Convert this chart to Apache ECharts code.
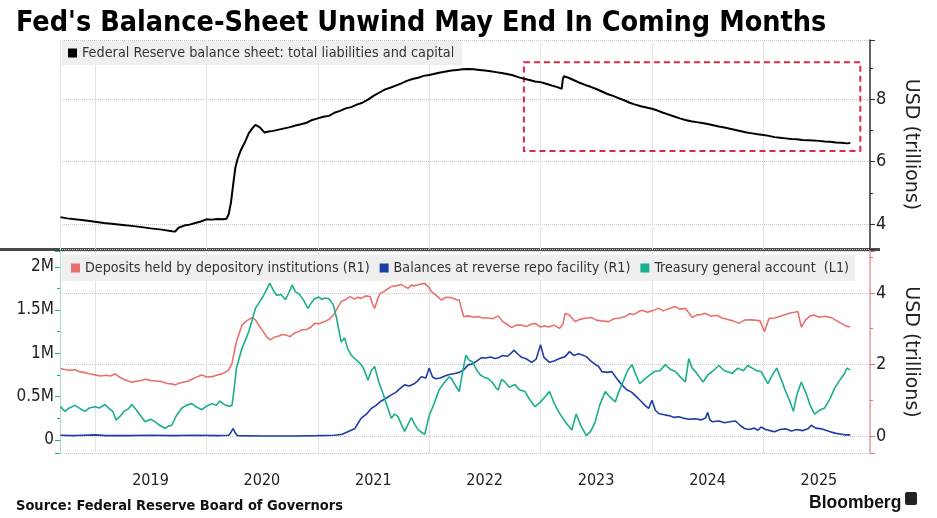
<!DOCTYPE html>
<html>
<head>
<meta charset="utf-8">
<script src="https://cdn.jsdelivr.net/npm/echarts@6/dist/echarts.min.js"></script>
<style>
html,body{margin:0;padding:0;background:#fff;}
#chart{width:937px;height:518px;}
</style>
</head>
<body>
<div id="chart"></div>
<script>
// ---- Data (x = decimal year) ----
const yearTicks = [2019, 2020, 2021, 2022, 2023, 2024, 2025];

// Federal Reserve balance sheet, USD trillions (right axis, top panel)
const fedBalance = [
[2018.69,4.22],[2018.75,4.18],[2018.82,4.15],[2018.9,4.12],[2019.0,4.07],[2019.08,4.03],[2019.17,4.0],[2019.25,3.97],
[2019.33,3.94],[2019.42,3.9],[2019.5,3.86],[2019.6,3.82],[2019.69,3.77],[2019.72,3.76],[2019.75,3.88],[2019.8,3.95],
[2019.85,3.98],[2019.9,4.03],[2019.95,4.08],[2020.0,4.15],[2020.05,4.14],[2020.1,4.16],[2020.15,4.15],[2020.18,4.17],
[2020.2,4.31],[2020.22,4.67],[2020.24,5.25],[2020.26,5.8],[2020.28,6.08],[2020.31,6.37],[2020.35,6.65],[2020.38,6.9],
[2020.41,7.05],[2020.44,7.17],[2020.48,7.09],[2020.52,6.93],[2020.56,6.96],[2020.6,6.98],[2020.65,7.02],[2020.7,7.06],
[2020.75,7.1],[2020.8,7.15],[2020.85,7.19],[2020.9,7.24],[2020.95,7.33],[2021.0,7.38],[2021.05,7.43],[2021.1,7.46],
[2021.15,7.56],[2021.2,7.62],[2021.25,7.7],[2021.3,7.74],[2021.35,7.82],[2021.4,7.88],[2021.45,7.98],[2021.5,8.1],
[2021.55,8.2],[2021.6,8.3],[2021.65,8.36],[2021.7,8.43],[2021.75,8.5],[2021.8,8.58],[2021.85,8.64],[2021.9,8.68],
[2021.95,8.74],[2022.0,8.77],[2022.05,8.81],[2022.1,8.85],[2022.15,8.88],[2022.2,8.91],[2022.25,8.93],[2022.3,8.95],
[2022.35,8.96],[2022.4,8.95],[2022.45,8.93],[2022.5,8.91],[2022.55,8.89],[2022.6,8.86],[2022.65,8.83],[2022.7,8.8],
[2022.75,8.76],[2022.8,8.7],[2022.85,8.65],[2022.9,8.61],[2022.95,8.56],[2023.0,8.54],[2023.05,8.49],[2023.1,8.43],
[2023.15,8.38],[2023.19,8.33],[2023.2,8.64],[2023.21,8.73],[2023.25,8.68],[2023.3,8.6],[2023.35,8.52],[2023.4,8.45],
[2023.45,8.39],[2023.5,8.32],[2023.55,8.24],[2023.6,8.16],[2023.65,8.1],[2023.7,8.03],[2023.75,7.96],[2023.8,7.88],
[2023.85,7.82],[2023.9,7.77],[2023.95,7.73],[2024.0,7.69],[2024.05,7.63],[2024.1,7.56],[2024.15,7.5],[2024.2,7.44],
[2024.25,7.38],[2024.3,7.33],[2024.35,7.29],[2024.4,7.26],[2024.45,7.23],[2024.5,7.2],[2024.55,7.16],[2024.6,7.12],
[2024.65,7.09],[2024.7,7.05],[2024.75,7.01],[2024.8,6.97],[2024.85,6.93],[2024.9,6.9],[2024.95,6.87],[2025.0,6.85],
[2025.05,6.82],[2025.1,6.78],[2025.15,6.76],[2025.2,6.74],[2025.25,6.72],[2025.3,6.71],[2025.35,6.69],[2025.4,6.68],
[2025.45,6.67],[2025.5,6.66],[2025.55,6.64],[2025.6,6.63],[2025.65,6.61],[2025.7,6.6],[2025.75,6.58],[2025.78,6.59]
];

// Deposits held by depository institutions, USD trillions (R1)
const deposits = [
[2018.69,1.89],[2018.73,1.86],[2018.77,1.84],[2018.82,1.85],[2018.86,1.8],[2018.9,1.78],[2018.95,1.74],[2019.0,1.71],
[2019.05,1.68],[2019.1,1.7],[2019.14,1.68],[2019.18,1.74],[2019.22,1.65],[2019.26,1.58],[2019.3,1.54],[2019.33,1.5],
[2019.37,1.53],[2019.41,1.55],[2019.45,1.59],[2019.5,1.55],[2019.55,1.54],[2019.6,1.52],[2019.65,1.47],[2019.7,1.45],
[2019.72,1.43],[2019.76,1.48],[2019.8,1.51],[2019.84,1.54],[2019.88,1.6],[2019.92,1.66],[2019.96,1.71],[2020.0,1.65],
[2020.05,1.66],[2020.09,1.7],[2020.13,1.73],[2020.17,1.78],[2020.2,1.85],[2020.23,2.03],[2020.25,2.35],[2020.27,2.64],
[2020.3,2.92],[2020.32,3.1],[2020.36,3.22],[2020.41,3.31],[2020.44,3.25],[2020.47,3.1],[2020.51,2.92],[2020.54,2.78],
[2020.57,2.69],[2020.61,2.76],[2020.65,2.8],[2020.68,2.84],[2020.72,2.82],[2020.75,2.78],[2020.79,2.88],[2020.83,2.92],
[2020.86,2.97],[2020.9,2.98],[2020.94,3.05],[2020.97,3.15],[2021.01,3.14],[2021.06,3.2],[2021.1,3.26],[2021.14,3.38],
[2021.18,3.6],[2021.21,3.76],[2021.25,3.82],[2021.29,3.9],[2021.33,3.83],[2021.36,3.88],[2021.39,3.85],[2021.43,3.92],
[2021.47,3.9],[2021.49,3.7],[2021.51,3.57],[2021.54,3.85],[2021.56,3.99],[2021.6,4.05],[2021.63,4.12],[2021.66,4.18],
[2021.7,4.2],[2021.75,4.24],[2021.78,4.18],[2021.81,4.13],[2021.84,4.22],[2021.87,4.2],[2021.91,4.24],[2021.96,4.27],
[2022.0,4.15],[2022.02,4.04],[2022.06,3.94],[2022.11,3.8],[2022.15,3.88],[2022.2,3.87],[2022.24,3.82],[2022.27,3.8],
[2022.29,3.55],[2022.31,3.34],[2022.35,3.36],[2022.4,3.32],[2022.44,3.34],[2022.48,3.3],[2022.53,3.3],[2022.57,3.28],
[2022.62,3.36],[2022.66,3.2],[2022.7,3.12],[2022.74,3.03],[2022.78,3.1],[2022.83,3.1],[2022.87,3.06],[2022.91,3.12],
[2022.95,3.15],[2023.0,3.05],[2023.04,3.08],[2023.07,3.05],[2023.12,3.1],[2023.17,3.01],[2023.2,3.12],[2023.22,3.43],
[2023.26,3.38],[2023.31,3.2],[2023.36,3.27],[2023.41,3.3],[2023.46,3.31],[2023.5,3.24],[2023.55,3.22],[2023.61,3.2],
[2023.66,3.28],[2023.71,3.3],[2023.76,3.34],[2023.8,3.42],[2023.84,3.4],[2023.88,3.48],[2023.91,3.52],[2023.96,3.46],
[2024.0,3.5],[2024.06,3.57],[2024.1,3.5],[2024.15,3.56],[2024.21,3.62],[2024.25,3.55],[2024.3,3.57],[2024.33,3.45],
[2024.36,3.31],[2024.4,3.38],[2024.44,3.4],[2024.48,3.43],[2024.53,3.35],[2024.58,3.38],[2024.63,3.3],[2024.68,3.26],
[2024.73,3.22],[2024.78,3.15],[2024.83,3.24],[2024.88,3.25],[2024.92,3.24],[2024.97,3.22],[2025.01,2.92],[2025.05,3.29],
[2025.1,3.3],[2025.15,3.35],[2025.2,3.4],[2025.24,3.44],[2025.28,3.46],[2025.31,3.48],[2025.34,3.05],[2025.38,3.25],
[2025.42,3.36],[2025.46,3.38],[2025.5,3.32],[2025.55,3.35],[2025.61,3.31],[2025.66,3.22],[2025.7,3.15],[2025.74,3.08],
[2025.78,3.05]
];

// Balances at reverse repo facility, USD trillions (R1)
const reverseRepo = [
[2018.69,0.02],[2018.8,0.01],[2018.9,0.02],[2019.0,0.03],[2019.1,0.01],[2019.3,0.01],[2019.5,0.02],[2019.7,0.01],
[2019.9,0.02],[2020.1,0.01],[2020.2,0.02],[2020.22,0.1],[2020.24,0.21],[2020.26,0.08],[2020.28,0.01],[2020.5,0.0],
[2020.8,0.0],[2021.0,0.01],[2021.15,0.02],[2021.22,0.05],[2021.27,0.12],[2021.33,0.2],[2021.36,0.35],[2021.39,0.5],
[2021.44,0.62],[2021.48,0.77],[2021.52,0.85],[2021.57,0.98],[2021.61,1.05],[2021.66,1.15],[2021.7,1.22],[2021.74,1.33],
[2021.78,1.43],[2021.82,1.4],[2021.87,1.47],[2021.9,1.55],[2021.93,1.66],[2021.97,1.62],[2022.0,1.9],[2022.03,1.65],
[2022.06,1.6],[2022.1,1.62],[2022.14,1.68],[2022.18,1.72],[2022.23,1.75],[2022.27,1.78],[2022.31,1.85],[2022.35,1.99],
[2022.39,2.02],[2022.43,2.1],[2022.47,2.19],[2022.51,2.18],[2022.55,2.21],[2022.59,2.17],[2022.62,2.19],[2022.66,2.25],
[2022.7,2.23],[2022.73,2.3],[2022.76,2.4],[2022.8,2.28],[2022.83,2.2],[2022.87,2.16],[2022.92,2.06],[2022.96,2.15],
[2023.0,2.55],[2023.03,2.2],[2023.08,2.06],[2023.12,2.1],[2023.17,2.17],[2023.22,2.22],[2023.26,2.36],[2023.3,2.25],
[2023.34,2.3],[2023.37,2.27],[2023.41,2.22],[2023.45,2.1],[2023.49,2.0],[2023.52,1.95],[2023.55,1.8],[2023.6,1.78],
[2023.64,1.8],[2023.68,1.62],[2023.73,1.43],[2023.77,1.3],[2023.82,1.22],[2023.86,1.1],[2023.9,0.98],[2023.94,0.85],
[2023.97,0.77],[2024.0,1.0],[2024.03,0.72],[2024.06,0.63],[2024.1,0.6],[2024.15,0.57],[2024.2,0.52],[2024.24,0.54],
[2024.28,0.5],[2024.33,0.47],[2024.39,0.48],[2024.44,0.45],[2024.48,0.5],[2024.5,0.66],[2024.52,0.45],[2024.54,0.4],
[2024.6,0.42],[2024.65,0.37],[2024.7,0.4],[2024.75,0.42],[2024.79,0.3],[2024.83,0.21],[2024.87,0.18],[2024.92,0.22],
[2024.95,0.16],[2024.98,0.25],[2025.02,0.18],[2025.06,0.15],[2025.1,0.12],[2025.15,0.18],[2025.2,0.2],[2025.25,0.14],
[2025.3,0.18],[2025.35,0.15],[2025.4,0.2],[2025.43,0.3],[2025.47,0.22],[2025.52,0.2],[2025.56,0.16],[2025.6,0.12],
[2025.64,0.08],[2025.7,0.05],[2025.74,0.03],[2025.78,0.03]
];

// Treasury general account, in M (L1)
const tga = [
[2018.69,0.385],[2018.73,0.33],[2018.77,0.37],[2018.82,0.4],[2018.87,0.36],[2018.91,0.33],[2018.95,0.37],[2019.0,0.385],
[2019.04,0.37],[2019.09,0.41],[2019.13,0.36],[2019.16,0.33],[2019.19,0.23],[2019.23,0.28],[2019.26,0.33],[2019.3,0.36],
[2019.33,0.41],[2019.37,0.35],[2019.41,0.28],[2019.45,0.21],[2019.5,0.24],[2019.54,0.21],[2019.58,0.17],[2019.63,0.135],
[2019.66,0.16],[2019.69,0.17],[2019.73,0.28],[2019.78,0.37],[2019.82,0.4],[2019.87,0.42],[2019.91,0.38],[2019.96,0.35],
[2020.0,0.39],[2020.05,0.42],[2020.09,0.4],[2020.12,0.45],[2020.16,0.41],[2020.2,0.39],[2020.23,0.4],[2020.25,0.6],
[2020.27,0.83],[2020.3,0.97],[2020.32,1.06],[2020.35,1.15],[2020.38,1.25],[2020.41,1.38],[2020.44,1.52],[2020.48,1.6],
[2020.51,1.66],[2020.53,1.71],[2020.57,1.81],[2020.6,1.73],[2020.63,1.67],[2020.67,1.68],[2020.71,1.62],[2020.74,1.7],
[2020.77,1.79],[2020.8,1.71],[2020.83,1.69],[2020.87,1.62],[2020.91,1.52],[2020.94,1.58],[2020.97,1.63],[2021.01,1.65],
[2021.04,1.62],[2021.06,1.64],[2021.1,1.63],[2021.14,1.56],[2021.17,1.4],[2021.21,1.13],[2021.24,1.18],[2021.27,1.05],
[2021.3,0.98],[2021.34,0.93],[2021.39,0.87],[2021.42,0.8],[2021.45,0.69],[2021.48,0.8],[2021.51,0.85],[2021.55,0.66],
[2021.59,0.52],[2021.62,0.4],[2021.66,0.25],[2021.69,0.3],[2021.72,0.27],[2021.75,0.18],[2021.78,0.1],[2021.81,0.18],
[2021.84,0.26],[2021.87,0.18],[2021.9,0.12],[2021.93,0.09],[2021.96,0.066],[2022.0,0.28],[2022.05,0.44],[2022.09,0.58],
[2022.14,0.67],[2022.18,0.73],[2022.2,0.71],[2022.24,0.62],[2022.27,0.56],[2022.3,0.79],[2022.33,0.98],[2022.36,0.92],
[2022.39,0.9],[2022.43,0.8],[2022.46,0.75],[2022.5,0.72],[2022.53,0.71],[2022.57,0.66],[2022.6,0.6],[2022.62,0.58],
[2022.65,0.7],[2022.68,0.67],[2022.72,0.61],[2022.77,0.64],[2022.81,0.58],[2022.86,0.56],[2022.9,0.47],[2022.95,0.385],
[2023.0,0.44],[2023.04,0.5],[2023.08,0.56],[2023.12,0.43],[2023.16,0.33],[2023.2,0.25],[2023.24,0.18],[2023.28,0.115],
[2023.32,0.3],[2023.36,0.17],[2023.41,0.05],[2023.45,0.1],[2023.49,0.21],[2023.53,0.4],[2023.58,0.56],[2023.62,0.5],
[2023.67,0.44],[2023.7,0.55],[2023.74,0.67],[2023.78,0.8],[2023.82,0.87],[2023.86,0.74],[2023.89,0.65],[2023.93,0.7],
[2023.98,0.75],[2024.02,0.79],[2024.07,0.8],[2024.12,0.87],[2024.16,0.82],[2024.21,0.79],[2024.26,0.72],[2024.3,0.67],
[2024.33,0.94],[2024.36,0.83],[2024.39,0.79],[2024.43,0.72],[2024.46,0.67],[2024.5,0.75],[2024.55,0.8],[2024.6,0.86],
[2024.65,0.8],[2024.72,0.77],[2024.77,0.83],[2024.82,0.8],[2024.86,0.86],[2024.9,0.83],[2024.94,0.8],[2024.98,0.79],
[2025.01,0.72],[2025.04,0.65],[2025.08,0.75],[2025.12,0.83],[2025.16,0.7],[2025.2,0.56],[2025.24,0.44],[2025.27,0.33],
[2025.3,0.52],[2025.34,0.67],[2025.38,0.55],[2025.42,0.4],[2025.46,0.3],[2025.5,0.34],[2025.55,0.37],[2025.6,0.48],
[2025.64,0.6],[2025.68,0.68],[2025.72,0.75],[2025.75,0.83],[2025.78,0.81]
];

// Highlight box (data coordinates of the top panel)
const highlightBox = { x0: 2022.85, x1: 2025.87, y0: 9.18, y1: 6.34 };

const xRange = [2018.686, 2025.957];
const FONT = "'Liberation Sans Narrow', 'DejaVu Sans Condensed', sans-serif";
const COLORS = { fed: '#000000', dep: '#e8716f', rrp: '#1c3fa6', tga: '#19ae8c' };

const chart = echarts.init(document.getElementById('chart'));

function xAxisCfg(grid, showLabels) {
  return {
    type: 'value', gridIndex: grid, min: xRange[0], max: xRange[1], splitNumber: 7,
    axisLine: { show: false }, axisTick: { show: false },
    splitLine: { show: true, lineStyle: { color: '#e3e3e3', width: 1 } },
    axisLabel: {
      show: showLabels, showMinLabel: false, showMaxLabel: false,
      fontFamily: FONT, fontSize: 16, color: '#222', margin: 20,
      padding: [0, 0, 0, 111],
      formatter: v => (yearTicks.indexOf(Math.round(v)) >= 0 && Math.abs(v - Math.round(v)) < 1e-6) ? String(Math.round(v)) : ''
    }
  };
}

const option = {
  backgroundColor: '#ffffff',
  animation: false,
  textStyle: { fontFamily: FONT },
  title: [
    { text: "Fed's Balance-Sheet Unwind May End In Coming Months", left: 11, top: 4,
      textStyle: { fontFamily: FONT, fontSize: 28.5, fontWeight: 'bold', color: '#000' } },
    { text: 'Source: Federal Reserve Board of Governors', left: 11, top: 494,
      textStyle: { fontFamily: FONT, fontSize: 14.5, fontWeight: 'bold', color: '#111' } },
    { text: 'Bloomberg', left: 804, top: 489,
      textStyle: { fontFamily: "'Liberation Sans', Arial, sans-serif", fontSize: 17.5, fontWeight: 'bold', color: '#111' } }
  ],
  grid: [
    { left: 60, right: 67, top: 40, height: 209 },
    { left: 60, right: 67, top: 251, height: 202 }
  ],
  legend: [
    { left: 62, top: 41, data: ['Federal Reserve balance sheet: total liabilities and capital'],
      icon: 'rect', itemWidth: 9, itemHeight: 9, itemGap: 10, backgroundColor: '#efefef',
      padding: [5, 8, 5, 6], textStyle: { fontFamily: FONT, fontSize: 14.3, color: '#333' } },
    { left: 62, top: 255,
      data: ['Deposits held by depository institutions (R1)', 'Balances at reverse repo facility (R1)', 'Treasury general account  (L1)'],
      icon: 'rect', itemWidth: 9, itemHeight: 9, itemGap: 10, backgroundColor: '#efefef',
      padding: [6, 6, 6, 9], textStyle: { fontFamily: FONT, fontSize: 14.2, color: '#333' } }
  ],
  xAxis: [ xAxisCfg(0, false), xAxisCfg(1, true) ],
  yAxis: [
    { type: 'value', gridIndex: 0, position: 'right', min: 3.2, max: 9.888, splitNumber: 3,
      axisLine: { show: true, lineStyle: { color: '#333', width: 1.5 } },
      axisTick: { show: true, length: 5, lineStyle: { color: '#333' } },
      minorTick: { show: true, splitNumber: 2, length: 3, lineStyle: { color: '#333' } },
      axisLabel: { showMinLabel: false, showMaxLabel: false, fontFamily: FONT, fontSize: 18, color: '#222', margin: 6 },
      splitLine: { show: true, lineStyle: { color: '#c8c8c8', type: 'dotted' } },
      name: 'USD (trillions)', nameLocation: 'middle', nameRotate: -90, nameGap: 31,
      nameTextStyle: { fontFamily: "'DejaVu Sans', sans-serif", fontSize: 19, color: '#222' } },
    { type: 'value', gridIndex: 1, position: 'left', min: -0.15, max: 2.182, splitNumber: 5,
      axisLine: { show: true, lineStyle: { color: '#a8dccd', width: 1 } },
      axisTick: { show: true, length: 5, lineStyle: { color: '#19ae8c' } },
      minorTick: { show: true, splitNumber: 2, length: 3, lineStyle: { color: '#19ae8c' } },
      axisLabel: { showMinLabel: false, showMaxLabel: false, fontFamily: FONT, fontSize: 17, color: '#222', margin: 6,
        formatter: v => v === 0 ? '0' : (v + 'M') },
      splitLine: { show: false } },
    { type: 'value', gridIndex: 1, position: 'right', min: -0.476, max: 5.175, splitNumber: 3,
      axisLine: { show: true, lineStyle: { color: '#e4a3aa', width: 1.5 } },
      axisTick: { show: true, length: 5, lineStyle: { color: '#e8716f' } },
      minorTick: { show: true, splitNumber: 2, length: 3, lineStyle: { color: '#e8716f' } },
      axisLabel: { showMinLabel: false, showMaxLabel: false, fontFamily: FONT, fontSize: 18, color: '#222', margin: 6 },
      splitLine: { show: true, lineStyle: { color: '#c8c8c8', type: 'dotted' } },
      name: 'USD (trillions)', nameLocation: 'middle', nameRotate: -90, nameGap: 31,
      nameTextStyle: { fontFamily: "'DejaVu Sans', sans-serif", fontSize: 19, color: '#222' } }
  ],
  series: [
    { name: 'Federal Reserve balance sheet: total liabilities and capital', type: 'line',
      xAxisIndex: 0, yAxisIndex: 0, data: fedBalance, showSymbol: false, symbol: 'none',
      itemStyle: { color: COLORS.fed }, lineStyle: { color: COLORS.fed, width: 2 },
      markArea: { silent: true,
        itemStyle: { color: 'rgba(0,0,0,0)', borderColor: '#d7284d', borderWidth: 2, borderType: [6, 4] },
        data: [[ { xAxis: highlightBox.x0, yAxis: highlightBox.y0 }, { xAxis: highlightBox.x1, yAxis: highlightBox.y1 } ]] } },
    { name: 'Deposits held by depository institutions (R1)', type: 'line',
      xAxisIndex: 1, yAxisIndex: 2, data: deposits, showSymbol: false, symbol: 'none',
      itemStyle: { color: COLORS.dep }, lineStyle: { color: COLORS.dep, width: 1.6 } },
    { name: 'Balances at reverse repo facility (R1)', type: 'line',
      xAxisIndex: 1, yAxisIndex: 2, data: reverseRepo, showSymbol: false, symbol: 'none',
      itemStyle: { color: COLORS.rrp }, lineStyle: { color: COLORS.rrp, width: 1.6 } },
    { name: 'Treasury general account  (L1)', type: 'line',
      xAxisIndex: 1, yAxisIndex: 1, data: tga, showSymbol: false, symbol: 'none',
      itemStyle: { color: COLORS.tga }, lineStyle: { color: COLORS.tga, width: 1.6 } }
  ],
  graphic: [
    { type: 'line', shape: { x1: 0, y1: 249.5, x2: 880, y2: 249.5 }, style: { stroke: '#4a4a4a', lineWidth: 3 }, silent: true },
    { type: 'rect', shape: { x: 905, y: 492, width: 12, height: 13, r: 2 }, style: { fill: '#222' }, silent: true }
  ]
};

chart.setOption(option);
</script>
</body>
</html>
